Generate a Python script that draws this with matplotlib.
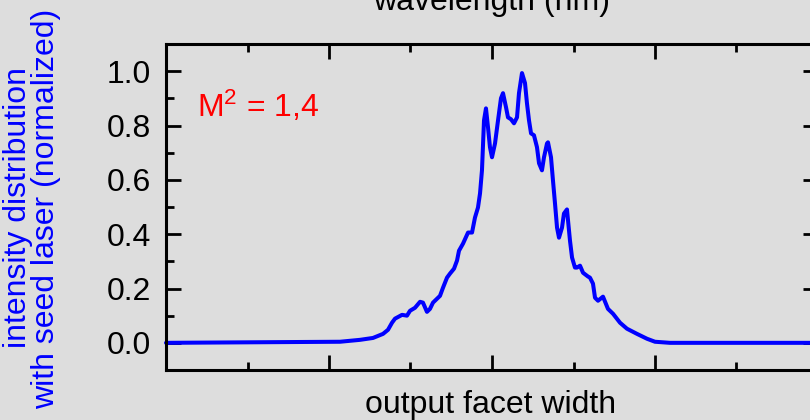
import matplotlib
matplotlib.use("Agg")
import matplotlib.pyplot as plt
from matplotlib.ticker import MultipleLocator

# facet position (arbitrary units, 0..8) and normalized intensity
pos = [0.000, 2.135, 2.380, 2.540, 2.663, 2.724, 2.773, 2.810, 2.896, 2.957,
       2.994, 3.055, 3.117, 3.153, 3.202, 3.239, 3.276, 3.362, 3.399, 3.448,
       3.485, 3.534, 3.571, 3.595, 3.644, 3.706, 3.755, 3.791, 3.828, 3.853,
       3.877, 3.902, 3.926, 3.951, 3.975, 4.000, 4.037, 4.074, 4.110, 4.135,
       4.172, 4.196, 4.233, 4.270, 4.307, 4.331, 4.368, 4.405, 4.429, 4.454,
       4.479, 4.515, 4.552, 4.577, 4.613, 4.638, 4.675, 4.687, 4.724, 4.748,
       4.773, 4.798, 4.822, 4.859, 4.883, 4.920, 4.933, 4.957, 4.982, 5.018,
       5.043, 5.080, 5.117, 5.178, 5.202, 5.239, 5.264, 5.301, 5.362, 5.423,
       5.485, 5.571, 5.656, 5.779, 5.902, 6.000, 6.184, 8.000]
intensity = [0.000, 0.004, 0.011, 0.018, 0.033, 0.048, 0.074, 0.089, 0.103,
             0.100, 0.118, 0.129, 0.151, 0.148, 0.114, 0.125, 0.148, 0.173,
             0.203, 0.240, 0.255, 0.273, 0.303, 0.339, 0.365, 0.406, 0.406,
             0.461, 0.498, 0.550, 0.635, 0.819, 0.863, 0.793, 0.720, 0.683,
             0.734, 0.819, 0.900, 0.919, 0.867, 0.830, 0.823, 0.808, 0.830,
             0.919, 0.993, 0.956, 0.882, 0.819, 0.771, 0.764, 0.720, 0.661,
             0.635, 0.683, 0.734, 0.738, 0.683, 0.598, 0.513, 0.424, 0.387,
             0.424, 0.476, 0.491, 0.450, 0.376, 0.314, 0.277, 0.277, 0.284,
             0.258, 0.244, 0.240, 0.218, 0.166, 0.155, 0.170, 0.125, 0.107,
             0.074, 0.052, 0.033, 0.015, 0.004, 0.000, 0.000]

plt.rcParams['font.family'] = ['Liberation Sans', 'DejaVu Sans']
plt.rcParams['mathtext.fontset'] = 'custom'
plt.rcParams['mathtext.rm'] = 'Liberation Sans'

bg = '#dddddd'
fs = 23

fig = plt.figure(figsize=(8.1, 4.2), dpi=100, facecolor=bg)
# the right spine sits just outside the picture, like in the original crop
ax = fig.add_axes([166 / 810, 50 / 420, 652 / 810, 326 / 420], facecolor=bg)

ax.plot(pos, intensity, color='#0000ff', lw=2.9, solid_joinstyle='round',
        solid_capstyle='round', clip_on=False)

ax.set_xlim(0, 8)
ax.set_ylim(-0.1, 1.1)
ax.xaxis.set_major_locator(MultipleLocator(2))
ax.xaxis.set_minor_locator(MultipleLocator(1))
ax.yaxis.set_minor_locator(MultipleLocator(0.1))
ax.set_yticks([0, 0.2, 0.4, 0.6, 0.8, 1.0])
ax.set_yticklabels(['0.0', '0.2', '0.4', '0.6', '0.8', '1.0'])

ax.tick_params(which='both', direction='in', top=True, right=True, width=2,
               labelbottom=False, labelsize=fs, pad=11)
ax.tick_params(which='major', length=11)
ax.tick_params(which='minor', length=6)
for s in ax.spines.values():
    s.set_linewidth(2.2)

ax.text(0.38, 0.87, r'$\mathregular{M^2}$ = 1,4', color='#ff0000', fontsize=fs,
        ha='left', va='center')

fig.text(491 / 810, 1 - 405 / 420, 'output facet width', fontsize=fs,
         ha='center', va='center')
# top label is cut by the picture edge, as in the original
fig.text(492 / 810, 1 - 10 / 420, 'wavelength (nm)', fontsize=fs,
         ha='center', va='baseline')
fig.text(18 / 810, 1 - 208 / 420, 'intensity distribution', fontsize=fs,
         color='#0000ff', rotation=90, ha='center', va='center')
fig.text(46 / 810, 1 - 209 / 420, 'with seed laser (normalized)', fontsize=fs,
         color='#0000ff', rotation=90, ha='center', va='center')

fig.savefig('out.png', dpi=100, facecolor=bg)
